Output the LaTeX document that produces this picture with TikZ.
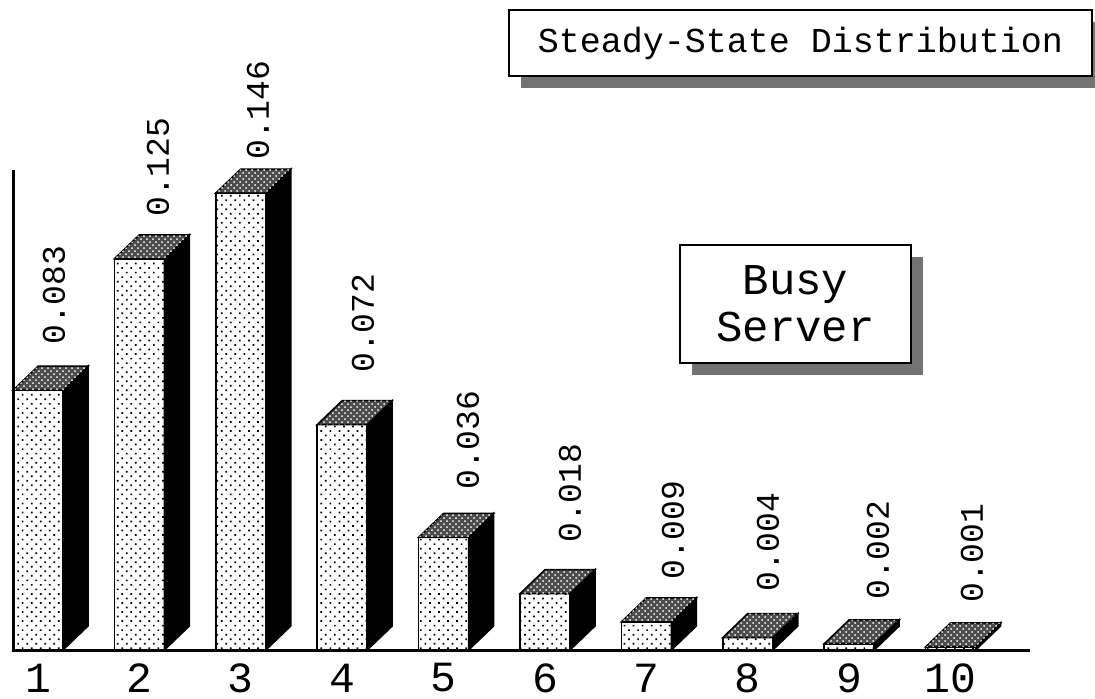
\documentclass[tikz,border=0pt]{standalone}
\usepackage{fontspec}
\setmonofont{Liberation Mono}
\usepackage{tikz}
\usetikzlibrary{patterns, patterns.meta, shadows, positioning}

\begin{document}
\begin{tikzpicture}[
    x=0.5pt, y=-0.5pt,
    front/.style={draw, line width=0.75pt, pattern={Dots[angle=45, distance=3.2pt, radius=0.6pt]}},
    topface/.style={draw, line width=0.75pt, fill=black!70, postaction={pattern=crosshatch dots, pattern color=white}},
    side/.style={draw, line width=0.75pt, fill=black},
    valuelabel/.style={rotate=90, anchor=west, inner sep=0pt, font=\fontsize{16.5}{16.5}\selectfont\ttfamily},
    catlabel/.style={inner sep=0pt, font=\fontsize{21.5}{21.5}\selectfont\ttfamily},
    shadowbox/.style={draw, line width=1pt, fill=white, align=center, drop shadow={shadow xshift=6pt, shadow yshift=-6pt, opacity=1, fill=black!55}}
]
\useasboundingbox (0,0) rectangle (1095,698);

% Bars with value labels
\foreach \v/\lx/\ly [count=\i] in {0.083/54/345, 0.125/158/217, 0.146/258/160, 0.072/363/373, 0.036/468/490,
                                   0.018/570/543, 0.009/673/580, 0.004/768/592, 0.002/878/600, 0.001/972/603} {
  \pgfmathsetmacro\xl{13+101.4*(\i-1)}
  \pgfmathsetmacro\yt{650-3130*\v}
  \draw[side] (\xl+50,650) -- (\xl+50,\yt) -- (\xl+75,\yt-24) -- (\xl+75,626) -- cycle;
  \draw[front] (\xl,650) rectangle (\xl+50,\yt);
  \draw[topface] (\xl,\yt) -- (\xl+25,\yt-24) -- (\xl+75,\yt-24) -- (\xl+50,\yt) -- cycle;
  \node[valuelabel] (val\i) at (\lx,\ly) {\v};
  \node[catlabel] (cat\i) at (\xl+25,678) {\i};
}

% Axes
\coordinate (origin) at (13,650);
\coordinate (ytop) at (13,170);
\coordinate (xend) at (1030,650);
\draw[line width=1.5pt] (ytop) -- (origin) -- (xend);

% Boxes
\node[shadowbox, minimum width=291.5pt, minimum height=33pt, font=\fontsize{17.5}{17.5}\selectfont\ttfamily] (title) at (800.5,43) {Steady-State Distribution};
\node[shadowbox, minimum width=115.5pt, minimum height=59pt, font=\fontsize{22}{23.5}\selectfont\ttfamily] (busy) at (795.5,304) {Busy\\Server};
\end{tikzpicture}
\end{document}
